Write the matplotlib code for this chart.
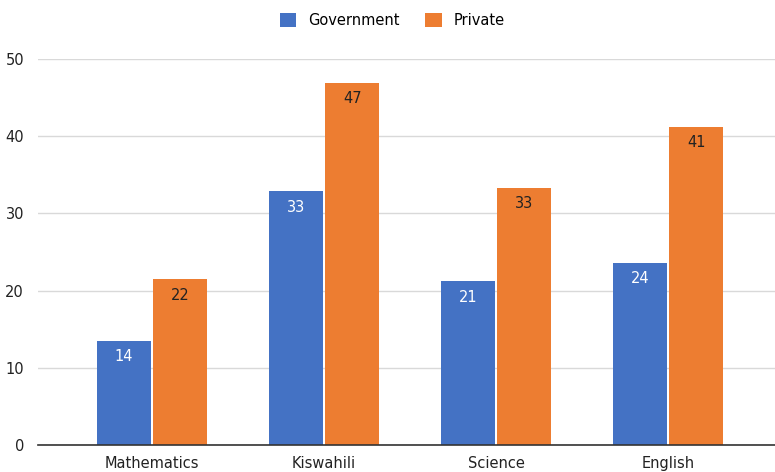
import numpy as np
import matplotlib.pyplot as plt

# data
subjects = ['Mathematics', 'Kiswahili', 'Science', 'English']
government = [13.5, 32.9, 21.2, 23.6]
private = [21.5, 46.9, 33.3, 41.2]
gov_labels = ['14', '33', '21', '24']
priv_labels = ['22', '47', '33', '41']

blue = '#4472C4'
orange = '#ED7D31'

dpi = 100
fig = plt.figure(figsize=(775 / dpi, 472 / dpi), dpi=dpi)
ax = fig.add_axes([38 / 775, 27 / 472, 737 / 775, 386 / 472])

x = np.arange(len(subjects))
w = 0.314
b1 = ax.bar(x - w / 2 - 0.006, government, w, color=blue, label='Government')
b2 = ax.bar(x + w / 2 + 0.006, private, w, color=orange, label='Private')

# value labels inside the top of each bar
for bar, lab in zip(b1, gov_labels):
    ax.annotate(lab, (bar.get_x() + bar.get_width() / 2, bar.get_height()),
                xytext=(0, -16), textcoords='offset pixels', ha='center', va='center',
                color='white', fontsize=10.5)
for bar, lab in zip(b2, priv_labels):
    ax.annotate(lab, (bar.get_x() + bar.get_width() / 2, bar.get_height()),
                xytext=(0, -16), textcoords='offset pixels', ha='center', va='center',
                color='#222222', fontsize=10.5)

ax.set_xlim(-0.663, 3.62)
ax.set_ylim(0, 50)
ax.set_yticks([0, 10, 20, 30, 40, 50])
ax.set_xticks(x)
ax.set_xticklabels(subjects)
ax.tick_params(axis='both', length=0, labelsize=10.5, colors='#222222')
ax.tick_params(axis='x', pad=8)
ax.tick_params(axis='y', pad=10)

ax.yaxis.grid(True, color='#d9d9d9', linewidth=1)
ax.set_axisbelow(True)
for s in ['top', 'right', 'left']:
    ax.spines[s].set_visible(False)
ax.spines['bottom'].set_color('#333333')
ax.spines['bottom'].set_linewidth(1.2)

fig.legend(loc='upper center', bbox_to_anchor=(0.506, 1.0), ncol=2, frameon=False,
           fontsize=10.5, handlelength=1.1, handleheight=1.1, columnspacing=1.8,
           handletextpad=0.8)

plt.savefig('out.png', dpi=dpi)
